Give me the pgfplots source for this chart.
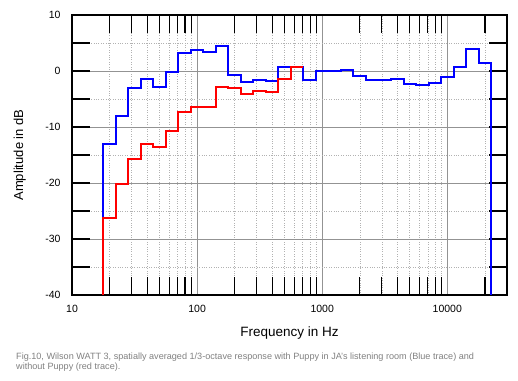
\documentclass[border=0pt]{standalone}
\usepackage{pgfplots}
\pgfplotsset{compat=1.18}
\usepackage{fontspec}
\setmainfont{Liberation Sans}
\begin{document}
\begin{tikzpicture}
\path[use as bounding box] (0,0) rectangle (518pt,380pt);
\begin{axis}[
  at={(72pt,85pt)}, anchor=south west,
  scale only axis, width=435pt, height=280pt,
  xmode=log, xmin=10, xmax=30000,
  ymin=-40, ymax=10,
  xtick={10,100,1000,10000},
  xticklabels={10,100,1000,10000},
  minor xtick={20,30,40,50,60,70,80,90,200,300,400,500,600,700,800,900,2000,3000,4000,5000,6000,7000,8000,9000,20000},
  ytick={-40,-30,-20,-10,0,10},
  yticklabels={-40,-30,-20,-10,0,10},
  minor ytick={-35,-25,-15,-5,5},
  tick align=inside,
  major tick length=18pt, minor tick length=18pt,
  every major x tick/.style={draw=none},
  tick style={black, line width=1.1pt},
  grid=both,
  major grid style={gray!85, line width=0.8pt},
  minor grid style={gray!60, dotted, line width=0.7pt},
  axis line style={black, line width=1.5pt},
  tick label style={font=\fontsize{10.5}{12}\selectfont},
  xticklabel style={yshift=-7pt},
  yticklabel style={xshift=-8pt},
  xlabel={Frequency in Hz},
  ylabel={Amplitude in dB},
  every axis x label/.style={at={(axis description cs:0.5,-0.136)}, anchor=center, font=\fontsize{13.5}{15}\selectfont},
  every axis y label/.style={at={(axis description cs:-0.12,0.5)}, rotate=90, anchor=center, font=\fontsize{13}{15}\selectfont},
]
\addplot[const plot, blue, line width=2pt] coordinates {
(17.8,-40) (17.8,-13.0) (22.4,-8.1) (28.2,-3.0) (35.5,-1.4) (44.7,-2.8)
(56.2,-0.2) (70.8,3.2) (89.1,3.7) (112,3.4) (141,4.5) (178,-0.8)
(224,-1.9) (282,-1.6) (355,-1.8) (447,0.8) (562,0.8) (708,-1.6)
(891,0.0) (1122,0.0) (1413,0.2) (1778,-0.9) (2239,-1.6) (2818,-1.6)
(3548,-1.4) (4467,-2.4) (5623,-2.5) (7079,-2.2) (8913,-1.0) (11220,0.8)
(14125,4.0) (17783,1.5) (22387,-40)
};
\addplot[const plot, red, line width=2pt] coordinates {
(17.8,-40) (17.8,-26.2) (22.4,-20.1) (28.2,-15.7) (35.5,-13.1) (44.7,-13.5)
(56.2,-10.7) (70.8,-7.4) (89.1,-6.4) (112,-6.5) (141,-2.8) (178,-3.0)
(224,-4.1) (282,-3.5) (355,-3.8) (447,-1.4) (562,0.7) (708,0.7)
};
\end{axis}
\node[anchor=base west, text=gray, inner sep=0pt,
  font=\fontsize{9.1}{10}\selectfont] at (16pt,20.7pt)
  {Fig.10, Wilson WATT 3, spatially averaged 1/3-octave response with Puppy in JA's listening room (Blue trace) and};
\node[anchor=base west, text=gray, inner sep=0pt,
  font=\fontsize{9.1}{10}\selectfont] at (16pt,10.7pt)
  {without Puppy (red trace).};
\end{tikzpicture}
\end{document}
